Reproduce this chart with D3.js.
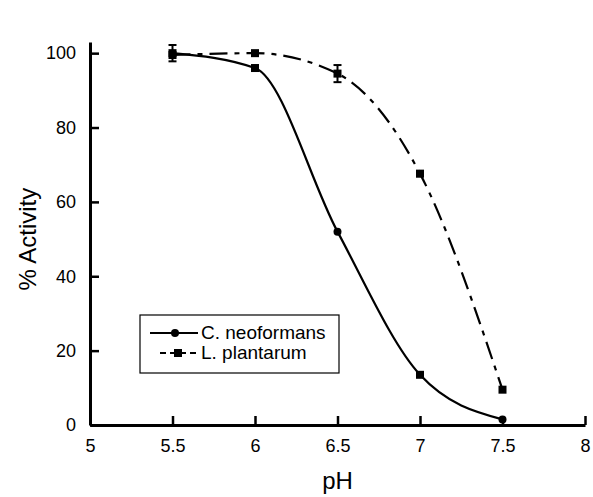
<!DOCTYPE html>
<html>
<head>
<meta charset="utf-8">
<script src="https://cdn.jsdelivr.net/npm/d3@7"></script>
<style>
  body { margin: 0; background: #fff; }
  text { font-family: "Liberation Sans", Arial, sans-serif; fill: #000; }
</style>
</head>
<body>
<div id="chart"></div>
<script>
// data
const phValues = [5.5, 6, 6.5, 7, 7.5];
const neoformans = [100, 96, 52, 13.5, 1.5];
const neoformansErr = [2.2, 0, 0, 0, 0];
const neoformansMarks = ["square", "square", "circle", "square", "circle"];
const plantarum = [99.5, 100, 94.5, 67.6, 9.5];
const plantarumErr = [0, 0, 2.3, 0.7, 0];
const xTicks = [5, 5.5, 6, 6.5, 7, 7.5, 8];
const yTicks = [0, 20, 40, 60, 80, 100];

const width = 593, height = 497;
const margin = {top: 42, right: 8, bottom: 72, left: 90};

const svg = d3.select("#chart").append("svg")
  .attr("width", width).attr("height", height);

const x = d3.scaleLinear().domain([5, 8]).range([margin.left, width - margin.right]);
const y = d3.scaleLinear().domain([0, 103]).range([height - margin.bottom, margin.top]);

// axes (ticks point inward)
const xAxis = svg.append("g")
  .attr("transform", `translate(0,${y(0)})`)
  .call(d3.axisBottom(x).tickValues(xTicks).tickSizeInner(-9).tickSizeOuter(0)
    .tickFormat(d3.format("")));
xAxis.select(".domain").attr("stroke-width", 3);
xAxis.selectAll(".tick line").attr("stroke-width", 2.5);
xAxis.selectAll(".tick text").attr("y", 14).style("font-size", "18px");

const yAxis = svg.append("g")
  .attr("transform", `translate(${x(5)},0)`)
  .call(d3.axisLeft(y).tickValues(yTicks).tickSizeInner(-9).tickSizeOuter(0));
yAxis.select(".domain").attr("stroke-width", 3);
yAxis.selectAll(".tick line").attr("stroke-width", 2.5);
yAxis.selectAll(".tick text").attr("x", -14).style("font-size", "18px");

svg.append("text")
  .attr("x", (x(5) + x(8)) / 2).attr("y", 489)
  .attr("text-anchor", "middle").style("font-size", "24px").text("pH");
svg.append("text")
  .attr("transform", `translate(36,${y(50)}) rotate(-90)`)
  .attr("text-anchor", "middle").style("font-size", "24px").text("% Activity");

const line = d3.line().curve(d3.curveMonotoneX)
  .x((d, i) => x(phValues[i])).y(d => y(d));

svg.append("path").datum(plantarum)
  .attr("d", line).attr("fill", "none").attr("stroke", "#000")
  .attr("stroke-width", 2.2).attr("stroke-dasharray", "18,7,5,7");
svg.append("path").datum(neoformans)
  .attr("d", line).attr("fill", "none").attr("stroke", "#000")
  .attr("stroke-width", 2.2);

function errorBars(vals, errs) {
  vals.forEach((v, i) => {
    if (!errs[i]) return;
    const cx = x(phValues[i]);
    const g = svg.append("g").attr("stroke", "#000").attr("stroke-width", 2);
    g.append("line").attr("x1", cx).attr("x2", cx).attr("y1", y(v - errs[i])).attr("y2", y(v + errs[i]));
    [v - errs[i], v + errs[i]].forEach(e => {
      g.append("line").attr("x1", cx - 4).attr("x2", cx + 4).attr("y1", y(e)).attr("y2", y(e));
    });
  });
}
errorBars(neoformans, neoformansErr);
errorBars(plantarum, plantarumErr);

function marker(sel, kind, cx, cy) {
  if (kind === "circle") {
    sel.append("circle").attr("cx", cx).attr("cy", cy).attr("r", 4).attr("fill", "#000");
  } else {
    sel.append("rect").attr("x", cx - 4).attr("y", cy - 4).attr("width", 8).attr("height", 8).attr("fill", "#000");
  }
}
const marks = svg.append("g");
plantarum.forEach((v, i) => marker(marks, "square", x(phValues[i]), y(v)));
neoformans.forEach((v, i) => marker(marks, neoformansMarks[i], x(phValues[i]), y(v)));

// legend
const legend = svg.append("g").attr("transform", "translate(140,315)");
legend.append("rect").attr("width", 199).attr("height", 58)
  .attr("fill", "#fff").attr("stroke", "#000").attr("stroke-width", 1.2);
const entries = [
  {label: "C. neoformans", kind: "circle", x0: 10, mx: 35, dash: null},
  {label: "L. plantarum", kind: "square", x0: 20, mx: 38, dash: "6,4"}
];
entries.forEach((e, i) => {
  const ly = 18 + i * 20;
  legend.append("line").attr("x1", e.x0).attr("x2", 58).attr("y1", ly).attr("y2", ly)
    .attr("stroke", "#000").attr("stroke-width", 2)
    .attr("stroke-dasharray", e.dash);
  marker(legend, e.kind, e.mx, ly);
  legend.append("text").attr("x", 61).attr("y", ly + 6)
    .style("font-size", "19px").text(e.label);
});
</script>
</body>
</html>
